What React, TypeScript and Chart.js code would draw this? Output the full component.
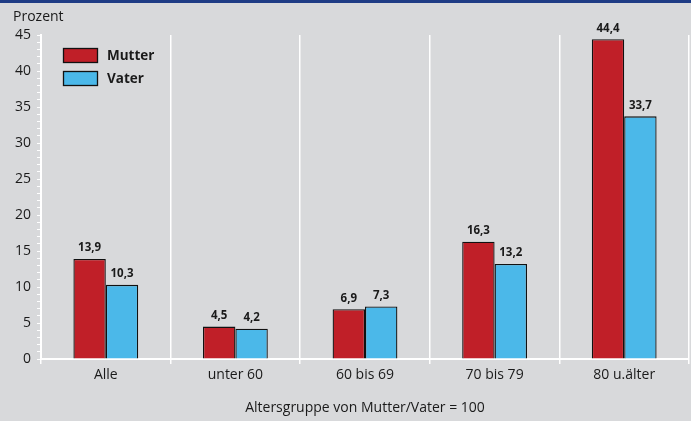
import React, { useEffect, useRef } from "react";
import { Chart, registerables } from "chart.js";

Chart.register(...registerables);

const categories = ["Alle", "unter 60", "60 bis 69", "70 bis 79", "80 u.älter"];
const mutterValues = [13.9, 4.5, 6.9, 16.3, 44.4];
const vaterValues = [10.3, 4.2, 7.3, 13.2, 33.7];
const seriesNames = ["Mutter", "Vater"];
const yAxisTitle = "Prozent";
const xAxisTitle = "Altersgruppe von Mutter/Vater = 100";

const FONT = "'Open Sans', 'Noto Sans', sans-serif";
const TEXT = "#1a1a1a";
const RED = "#c01f28";
const BLUE = "#4bb8e9";
const BG = "#d8d9db";
const EDGE = "#111111";

const fmt = (v: number) => v.toFixed(1).replace(".", ",");

const backdrop = {
  id: "backdrop",
  beforeDraw(chart: any) {
    const { ctx, width, height } = chart;
    ctx.save();
    ctx.fillStyle = BG;
    ctx.fillRect(0, 0, width, height);
    ctx.fillStyle = "#1e3c85";
    ctx.fillRect(0, 0, width, 3);
    ctx.fillStyle = TEXT;
    ctx.font = `14px ${FONT}`;
    ctx.textBaseline = "middle";
    ctx.textAlign = "left";
    ctx.fillText(yAxisTitle, 13, 17);
    ctx.restore();
  },
};

const valueLabels = {
  id: "valueLabels",
  afterDatasetsDraw(chart: any) {
    const { ctx } = chart;
    ctx.save();
    ctx.font = `bold 11.5px ${FONT}`;
    ctx.fillStyle = TEXT;
    ctx.textAlign = "center";
    ctx.textBaseline = "bottom";
    chart.data.datasets.forEach((ds: any, i: number) => {
      const meta = chart.getDatasetMeta(i);
      meta.data.forEach((el: any, j: number) => {
        ctx.fillText(fmt(ds.data[j]), el.x, el.y - 5);
      });
    });
    ctx.restore();
  },
};

const boxLegend = {
  id: "boxLegend",
  afterDraw(chart: any) {
    const { ctx } = chart;
    const colors = [RED, BLUE];
    ctx.save();
    ctx.font = `bold 13.5px ${FONT}`;
    ctx.textBaseline = "middle";
    ctx.textAlign = "left";
    seriesNames.forEach((name, i) => {
      const y = 48 + i * 23;
      ctx.fillStyle = colors[i];
      ctx.fillRect(63, y, 35, 15);
      ctx.strokeStyle = EDGE;
      ctx.lineWidth = 1.3;
      ctx.strokeRect(63.5, y + 0.5, 34, 14);
      ctx.fillStyle = TEXT;
      ctx.fillText(name, 107, y + 8);
    });
    ctx.restore();
  },
};

export default function App() {
  const ref = useRef<HTMLCanvasElement>(null);

  useEffect(() => {
    document.body.style.margin = "0";
    const chart = new Chart(ref.current as HTMLCanvasElement, {
      type: "bar",
      data: {
        labels: categories,
        datasets: [
          {
            label: seriesNames[0],
            data: mutterValues,
            backgroundColor: RED,
            borderColor: EDGE,
            borderWidth: 1.3,
            categoryPercentage: 0.5,
            barPercentage: 1,
          },
          {
            label: seriesNames[1],
            data: vaterValues,
            backgroundColor: BLUE,
            borderColor: EDGE,
            borderWidth: 1.3,
            categoryPercentage: 0.5,
            barPercentage: 1,
          },
        ],
      },
      options: {
        responsive: false,
        animation: false,
        layout: { padding: { top: 35, right: 2, left: 0, bottom: 0 } },
        plugins: {
          legend: { display: false },
          tooltip: { enabled: false },
        },
        scales: {
          x: {
            afterFit(scale: any) {
              scale.height = 62;
            },
            grid: {
              offset: true,
              color: "#ffffff",
              lineWidth: 1.5,
              tickLength: 5,
            },
            border: { color: "#ffffff", width: 2 },
            ticks: {
              color: TEXT,
              font: { family: FONT, size: 14 },
              padding: 3,
            },
            title: {
              display: true,
              text: xAxisTitle,
              color: TEXT,
              font: { family: FONT, size: 14 },
              padding: { top: 0, bottom: 5 },
            },
          },
          y: {
            min: 0,
            max: 45,
            afterFit(scale: any) {
              scale.width = 41;
            },
            grid: {
              drawOnChartArea: false,
              color: "#ffffff",
              tickLength: 4,
            },
            border: { color: "#ffffff", width: 2 },
            ticks: {
              stepSize: 1,
              autoSkip: false,
              color: TEXT,
              font: { family: FONT, size: 14 },
              padding: 6,
              callback: (v: any) => (Number(v) % 5 === 0 ? String(v) : ""),
            },
          },
        },
      },
      plugins: [backdrop, valueLabels, boxLegend],
    });
    return () => chart.destroy();
  }, []);

  return (
    <div style={{ position: "absolute", left: 0, top: 0, width: 691, height: 421 }}>
      <canvas ref={ref} width={691} height={421} />
    </div>
  );
}
